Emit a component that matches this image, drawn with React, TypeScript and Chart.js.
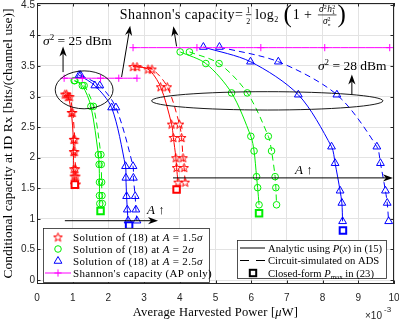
import React, { useEffect, useRef } from "react";
import { Chart, registerables } from "chart.js";
Chart.register(...registerables);

// ---------- axis ticks ----------
const xTicks = [0, 1, 2, 3, 4, 5, 6, 7, 8, 9, 10];
const yTicks = [0, 0.5, 1, 1.5, 2, 2.5, 3, 3.5, 4, 4.5];

// ---------- sigma^2 = 25 dBm ----------
const red25Y = [3.04, 3.0, 2.74, 2.3, 2.1, 1.82, 1.7, 1.57];
const red25SolidX = [0.78, 0.87, 0.96, 1.02, 1.02, 1.03, 1.04, 1.05];
const red25DashX = [0.83, 0.92, 1.0, 1.06, 1.06, 1.08, 1.09, 1.1];

const green25Y = [3.26, 3.18, 2.84, 2.05, 1.89, 1.6, 1.38, 1.25];
const green25SolidX = [1.04, 1.27, 1.51, 1.72, 1.74, 1.75, 1.75, 1.76];
const green25DashX = [1.06, 1.32, 1.58, 1.79, 1.8, 1.81, 1.82, 1.83];

const blue25Y = [3.35, 3.18, 2.82, 1.86, 1.67, 1.37, 1.15, 0.97];
const blue25SolidX = [1.18, 1.62, 2.09, 2.48, 2.49, 2.51, 2.53, 2.55];
const blue25DashX = [1.22, 1.76, 2.21, 2.69, 2.7, 2.75, 2.77, 2.8];

// ---------- sigma^2 = 28 dBm ----------
const red28Y = [3.49, 3.45, 3.16, 2.55, 2.33, 2.0, 1.84, 1.6];
const red28SolidX = [2.69, 3.11, 3.46, 3.77, 3.82, 3.89, 3.91, 3.95];
const red28DashX = [2.8, 3.22, 3.65, 3.99, 4.05, 4.09, 4.12, 4.15];

const green28Y = [3.73, 3.54, 3.06, 2.35, 2.11, 1.69, 1.51, 1.23];
const green28SolidX = [4.01, 4.73, 5.45, 5.99, 6.08, 6.15, 6.18, 6.22];
const green28DashX = [4.27, 5.1, 5.89, 6.48, 6.57, 6.67, 6.69, 6.71];

const blue28Y = [3.81, 3.57, 3.03, 2.18, 1.91, 1.46, 1.26, 0.96];
const blue28SolidX = [4.66, 5.98, 7.32, 8.25, 8.35, 8.49, 8.54, 8.56];
const blue28DashX = [5.11, 6.76, 8.4, 9.52, 9.62, 9.76, 9.81, 9.85];

// ---------- Shannon capacity (AP only) ----------
const shannon25X = [0.76, 1.27, 1.78, 2.29, 2.8];
const shannon25Y = [3.3, 3.3, 3.3, 3.3, 3.3];
const shannon28X = [2.69, 4.48, 6.27, 8.06, 9.88];
const shannon28Y = [3.8, 3.8, 3.8, 3.8, 3.8];

// ---------- closed-form Pmax ----------
const pmaxRedX = [1.06, 3.91];
const pmaxRedY = [1.56, 1.48];
const pmaxGreenX = [1.78, 6.22];
const pmaxGreenY = [1.13, 1.09];
const pmaxBlueX = [2.58, 8.57];
const pmaxBlueY = [0.89, 0.81];

// ---------- texts ----------
const xTitle = "Average Harvested Power [";
const yTitle = "Conditional capacity at ID Rx [bits/(channel use)]";
const legendLeftTexts = ["1.5", "2", "2.5"];
const legendShannon = "Shannon's capacity (AP only)";
const legendAnalytic = ["Analytic using ", "P", "(", "x", ") in (15)"];
const legendCircuit = "Circuit-simulated on ADS";
const sigma25Text = " = 25 dBm";
const sigma28Text = " = 28 dBm";

const RED = "#ff0000";
const GREEN = "#00ee00";
const BLUE = "#0000ff";
const MAGENTA = "#ff00ff";
const AXIS = "#262626";
const SERIF = '"Liberation Serif", "Times New Roman", serif';
const SANS = '"Liberation Sans", Arial, sans-serif';

const zip = (xs: number[], ys: number[]) => xs.map((x, i) => ({ x, y: ys[i] }));

function makeStar(color: string) {
  const c = document.createElement("canvas");
  const s = 11;
  c.width = s;
  c.height = s;
  const ctx = c.getContext("2d")!;
  ctx.strokeStyle = color;
  ctx.lineWidth = 1;
  ctx.beginPath();
  const R = 4.6, r = 1.9, cx = s / 2, cy = s / 2 + 0.5;
  for (let i = 0; i < 10; i++) {
    const a = -Math.PI / 2 + (i * Math.PI) / 5;
    const rad = i % 2 === 0 ? R : r;
    const px = cx + rad * Math.cos(a), py = cy + rad * Math.sin(a);
    if (i === 0) ctx.moveTo(px, py);
    else ctx.lineTo(px, py);
  }
  ctx.closePath();
  ctx.stroke();
  return c;
}

type Run = { t: string; it?: boolean; s?: number; dy?: number };

function drawRuns(ctx: CanvasRenderingContext2D, runs: Run[], x: number, y: number, base: number, measureOnly = false, spacing = 0) {
  let cx = x;
  (ctx as any).letterSpacing = `${spacing}px`;
  for (const r of runs) {
    ctx.font = `${r.it ? "italic " : ""}${r.s ?? base}px ${SERIF}`;
    if (!measureOnly) ctx.fillText(r.t, cx, y + (r.dy || 0));
    cx += ctx.measureText(r.t).width;
  }
  (ctx as any).letterSpacing = "0px";
  return cx - x;
}

function arrow(ctx: CanvasRenderingContext2D, x1: number, y1: number, x2: number, y2: number) {
  const ang = Math.atan2(y2 - y1, x2 - x1);
  const L = 10, W = 3.6;
  const c = Math.cos(ang), s = Math.sin(ang);
  ctx.beginPath();
  ctx.moveTo(x1, y1);
  ctx.lineTo(x2 - c * L * 0.7, y2 - s * L * 0.7);
  ctx.stroke();
  const bx = x2 - c * L, by = y2 - s * L;
  const nx = -s, ny = c;
  const mx = x2 - c * L * 0.7, my = y2 - s * L * 0.7;
  ctx.beginPath();
  ctx.moveTo(x2, y2);
  ctx.lineTo(bx + nx * W, by + ny * W);
  ctx.lineTo(mx, my);
  ctx.lineTo(bx - nx * W, by - ny * W);
  ctx.closePath();
  ctx.fill();
}

// plot frame inside the 399x321 canvas
const FRAME = { left: 37, right: 394, top: 3, bottom: 284 };

export default function App() {
  const ref = useRef<HTMLCanvasElement>(null);
  useEffect(() => {
    const canvas = ref.current!;
    const redStar = makeStar(RED);
    const curve = (xs: number[], ys: number[], color: string, dashed: boolean, style: any, radius: number) => ({
      data: zip(xs, ys),
      showLine: true,
      borderColor: color,
      borderWidth: 1,
      borderDash: dashed ? [6, 4] : [],
      pointStyle: style,
      pointRadius: radius,
      pointBorderColor: color,
      pointBackgroundColor: "rgba(0,0,0,0)",
      pointBorderWidth: 1,
      tension: 0.3,
      fill: false,
    });
    const squares = (xs: number[], ys: number[], color: string) => ({
      data: zip(xs, ys),
      showLine: false,
      pointStyle: "rect",
      pointRadius: 4.6,
      pointBorderColor: color,
      pointBackgroundColor: "#ffffff",
      pointBorderWidth: 2,
    });
    const datasets: any[] = [
      squares(pmaxRedX, pmaxRedY, RED),
      squares(pmaxGreenX, pmaxGreenY, GREEN),
      squares(pmaxBlueX, pmaxBlueY, BLUE),
      curve(shannon25X, shannon25Y, MAGENTA, false, "cross", 3.6),
      curve(shannon28X, shannon28Y, MAGENTA, false, "cross", 3.6),
      curve(blue25SolidX, blue25Y, BLUE, false, "triangle", 4.5),
      curve(blue25DashX, blue25Y, BLUE, true, "triangle", 4.5),
      curve(blue28SolidX, blue28Y, BLUE, false, "triangle", 4.5),
      curve(blue28DashX, blue28Y, BLUE, true, "triangle", 4.5),
      curve(green25SolidX, green25Y, GREEN, false, "circle", 3.3),
      curve(green25DashX, green25Y, GREEN, true, "circle", 3.3),
      curve(green28SolidX, green28Y, GREEN, false, "circle", 3.3),
      curve(green28DashX, green28Y, GREEN, true, "circle", 3.3),
      curve(red25SolidX, red25Y, RED, false, redStar, 4),
      curve(red25DashX, red25Y, RED, true, redStar, 4),
      curve(red28SolidX, red28Y, RED, false, redStar, 4),
      curve(red28DashX, red28Y, RED, true, redStar, 4),
    ];

    const frame = {
      id: "frame",
      afterLayout(chart: any) {
        const ca = chart.chartArea;
        ca.left = FRAME.left; ca.right = FRAME.right; ca.top = FRAME.top; ca.bottom = FRAME.bottom;
        ca.width = FRAME.right - FRAME.left; ca.height = FRAME.bottom - FRAME.top;
        const x = chart.scales.x, y = chart.scales.y;
        x.left = FRAME.left; x.right = FRAME.right; x.width = FRAME.right - FRAME.left;
        x.top = FRAME.bottom; x.bottom = chart.height; x.height = chart.height - FRAME.bottom;
        y.left = 0; y.right = FRAME.left; y.width = FRAME.left;
        y.top = FRAME.top; y.bottom = FRAME.bottom; y.height = FRAME.bottom - FRAME.top;
        x.configure();
        y.configure();
      },
    };

    const annot = {
      id: "annot",
      afterDraw(chart: any) {
        const ctx: CanvasRenderingContext2D = chart.ctx;
        const xs = chart.scales.x, ys = chart.scales.y;
        const ca = chart.chartArea;
        const px = (v: number) => xs.getPixelForValue(v);
        const py = (v: number) => ys.getPixelForValue(v);
        ctx.save();
        // box and inward ticks
        ctx.strokeStyle = AXIS;
        ctx.lineWidth = 1;
        ctx.strokeRect(Math.round(ca.left) + 0.5, Math.round(ca.top) + 0.5, Math.round(ca.right - ca.left) - 1, Math.round(ca.bottom - ca.top) - 1);
        ctx.beginPath();
        for (const t of xTicks) {
          const x = Math.round(px(t)) + 0.5;
          ctx.moveTo(x, ca.bottom); ctx.lineTo(x, ca.bottom - 3.5);
          ctx.moveTo(x, ca.top); ctx.lineTo(x, ca.top + 3.5);
        }
        for (const t of yTicks) {
          const y = Math.round(py(t)) + 0.5;
          ctx.moveTo(ca.left, y); ctx.lineTo(ca.left + 3.5, y);
          ctx.moveTo(ca.right, y); ctx.lineTo(ca.right - 3.5, y);
        }
        ctx.stroke();

        // ellipses
        ctx.strokeStyle = "#000";
        ctx.lineWidth = 0.9;
        const ell = (cx: number, cy: number, rx: number, ry: number) => {
          ctx.beginPath();
          const X = px(cx), Y = py(cy);
          ctx.ellipse(X, Y, Math.abs(px(cx + rx) - X), Math.abs(py(cy + ry) - Y), 0, 0, Math.PI * 2);
          ctx.stroke();
        };
        ell(1.32, 3.11, 0.81, 0.31);
        ell(6.45, 2.93, 3.24, 0.15);

        // arrows
        ctx.fillStyle = "#000";
        ctx.lineWidth = 1;
        const arr = (x1: number, y1: number, x2: number, y2: number) => arrow(ctx, px(x1), py(y1), px(x2), py(y2));
        arr(0.73, 3.4, 0.73, 3.82);
        arr(2.37, 3.32, 2.61, 4.16);
        arr(3.91, 3.82, 3.82, 4.15);
        arr(8.82, 3.03, 8.82, 3.36);
        arr(0.78, 0.97, 3.39, 0.97);
        arr(3.81, 1.67, 9.97, 1.67);

        // texts
        ctx.fillStyle = "#000";
        ctx.textBaseline = "alphabetic";
        ctx.textAlign = "left";
        drawRuns(ctx, [{ t: "σ", it: true }, { t: "2", s: 9, dy: -5 }, { t: sigma25Text }], px(0.17), py(3.85), 13.5);
        drawRuns(ctx, [{ t: "σ", it: true }, { t: "2", s: 9, dy: -5 }, { t: sigma28Text }], px(7.87), py(3.44), 13.5);
        drawRuns(ctx, [{ t: "A", it: true }, { t: " ↑" }], px(3.08), py(1.08), 13);
        drawRuns(ctx, [{ t: "A", it: true }, { t: " ↑" }], px(7.23), py(1.73), 13);

        // formula
        let fx = px(2.32);
        const fb = py(4.27);
        fx += drawRuns(ctx, [{ t: "Shannon's capacity=" }], fx, fb, 14, false, 0.45);
        fx += 3;
        ctx.font = `8px ${SERIF}`;
        ctx.fillText("1", fx, fb - 6);
        ctx.fillText("2", fx, fb + 5);
        ctx.fillRect(fx - 0.5, fb - 4.5, 5.5, 0.7);
        fx += 9;
        fx += drawRuns(ctx, [{ t: "log" }, { t: "2", s: 8, dy: 3 }], fx, fb, 14, false, 0.3);
        fx += 5;
        fx += drawRuns(ctx, [{ t: "(", s: 25, dy: 3 }], fx, fb, 14);
        fx += 1;
        fx += drawRuns(ctx, [{ t: "1 + " }], fx, fb, 14, false, 0.3);
        fx += 2;
        const numRuns: Run[] = [{ t: "σ", it: true }, { t: "2", s: 6, dy: -3 }, { t: "h", it: true }, { t: "2", s: 6, dy: -3 }];
        const numW = drawRuns(ctx, numRuns, fx, fb - 7, 9.5, true, 0.3);
        drawRuns(ctx, numRuns, fx + 1, fb - 7, 9.5, false, 0.3);
        ctx.font = `6px ${SERIF}`;
        ctx.fillText("1", fx + 1 + numW - 3.5, fb - 4.6);
        ctx.fillRect(fx, fb - 4.3, numW + 2, 0.7);
        drawRuns(ctx, [{ t: "σ", it: true }, { t: "2", s: 6, dy: -3 }], fx + 5, fb + 5, 9.5);
        ctx.font = `italic 5px ${SERIF}`;
        ctx.fillText("n", fx + 10, fb + 7);
        fx += numW + 3;
        drawRuns(ctx, [{ t: ")", s: 25, dy: 3 }], fx, fb, 14);

        // x title
        const xRuns: Run[] = [{ t: xTitle }, { t: "μ", it: true }, { t: "W]" }];
        const tw = drawRuns(ctx, xRuns, 0, 0, 12.5, true, 0.2);
        drawRuns(ctx, xRuns, (ca.left + ca.right) / 2 - tw / 2, 316, 12.5, false, 0.2);
        // exponent
        ctx.fillStyle = AXIS;
        ctx.font = `10px ${SANS}`;
        ctx.fillText("×10", ca.right - 29, 319);
        ctx.font = `8px ${SANS}`;
        ctx.fillText("-3", ca.right - 10, 312);
        // y title
        ctx.fillStyle = "#000";
        ctx.save();
        ctx.translate(11.5, (ca.top + ca.bottom) / 2);
        ctx.rotate(-Math.PI / 2);
        ctx.font = `13.5px ${SERIF}`;
        ctx.textAlign = "center";
        ctx.fillText(yTitle, 0, 0);
        ctx.restore();

        // left legend
        const L0 = ca.left + 6, B0 = ca.bottom - 2;
        const lw = 166, lh = 54;
        ctx.fillStyle = "#fff";
        ctx.fillRect(L0, B0 - lh, lw, lh);
        ctx.strokeStyle = AXIS;
        ctx.lineWidth = 0.8;
        ctx.strokeRect(L0 + 0.5, B0 - lh + 0.5, lw, lh);
        const rows = [B0 - 45, B0 - 33, B0 - 21, B0 - 9];
        const mx = L0 + 15, tx = L0 + 30;
        ctx.drawImage(redStar, mx - 5.5, rows[0] - 5.5);
        ctx.lineWidth = 1;
        ctx.strokeStyle = GREEN;
        ctx.beginPath(); ctx.arc(mx, rows[1], 3.3, 0, Math.PI * 2); ctx.stroke();
        ctx.strokeStyle = BLUE;
        ctx.beginPath();
        ctx.moveTo(mx, rows[2] - 4.5);
        ctx.lineTo(mx + 3.9, rows[2] + 2.25);
        ctx.lineTo(mx - 3.9, rows[2] + 2.25);
        ctx.closePath(); ctx.stroke();
        ctx.strokeStyle = MAGENTA;
        ctx.beginPath();
        ctx.moveTo(L0 + 2, rows[3]); ctx.lineTo(L0 + 28, rows[3]);
        ctx.moveTo(mx, rows[3] - 3.6); ctx.lineTo(mx, rows[3] + 3.6);
        ctx.moveTo(mx - 3.6, rows[3]); ctx.lineTo(mx + 3.6, rows[3]);
        ctx.stroke();
        ctx.fillStyle = "#000";
        legendLeftTexts.forEach((v, i) => {
          drawRuns(ctx, [{ t: "Solution of (18) at " }, { t: "A", it: true }, { t: " = " + v }, { t: "σ", it: true }], tx, rows[i] + 3.5, 11, false, 0.3);
        });
        drawRuns(ctx, [{ t: legendShannon }], tx, rows[3] + 3.5, 11, false, 0.3);

        // right legend
        const R0 = ca.right - 8, B1 = ca.bottom - 6;
        const rw = 149, rh = 38;
        const RL = R0 - rw;
        ctx.fillStyle = "#fff";
        ctx.fillRect(RL, B1 - rh, rw, rh);
        ctx.strokeStyle = AXIS;
        ctx.lineWidth = 0.8;
        ctx.strokeRect(RL + 0.5, B1 - rh + 0.5, rw, rh);
        const rr = [B1 - 30, B1 - 17.5, B1 - 5];
        ctx.strokeStyle = "#000";
        ctx.lineWidth = 1;
        ctx.beginPath();
        ctx.moveTo(RL + 3, rr[0]); ctx.lineTo(RL + 28, rr[0]);
        ctx.moveTo(RL + 3, rr[1]); ctx.lineTo(RL + 12, rr[1]);
        ctx.moveTo(RL + 19, rr[1]); ctx.lineTo(RL + 28, rr[1]);
        ctx.stroke();
        ctx.lineWidth = 2;
        ctx.strokeRect(RL + 16 - 3.2, rr[2] - 3.2, 6.4, 6.4);
        ctx.fillStyle = "#000";
        const rtx = RL + 31;
        drawRuns(ctx, legendAnalytic.map((t, i) => ({ t, it: i === 1 || i === 3 })), rtx, rr[0] + 3.5, 10.6);
        drawRuns(ctx, [{ t: legendCircuit }], rtx, rr[1] + 3.5, 10.6);
        drawRuns(ctx, [{ t: "Closed-form " }, { t: "P", it: true }, { t: "max", s: 7, dy: 2 }, { t: " in (23)" }], rtx, rr[2] + 3.5, 10.6);
        ctx.restore();
      },
    };

    const chart = new Chart(canvas, {
      type: "scatter",
      data: { datasets },
      options: {
        responsive: false,
        animation: false,
        layout: { padding: 0, autoPadding: false },
        plugins: { legend: { display: false }, tooltip: { enabled: false } },
        scales: {
          x: {
            type: "linear",
            min: 0,
            max: 10,
            afterFit: (s: any) => { s.height = 37; },
            afterBuildTicks: (s: any) => { s.ticks = xTicks.map((v) => ({ value: v })); },
            ticks: { font: { family: SANS, size: 10 }, color: AXIS, padding: 8, maxRotation: 0, autoSkip: false, callback: (v: any) => String(v) },
            grid: { color: "#e3e3e3", drawTicks: false },
            border: { display: false },
          },
          y: {
            type: "linear",
            min: -0.065,
            max: 4.53,
            afterFit: (s: any) => { s.width = 37; },
            afterBuildTicks: (s: any) => { s.ticks = yTicks.map((v) => ({ value: v })); },
            ticks: { font: { family: SANS, size: 10 }, color: AXIS, padding: 2, autoSkip: false, callback: (v: any) => String(v) },
            grid: { color: "#e3e3e3", drawTicks: false },
            border: { display: false },
          },
        },
      } as any,
      plugins: [frame, annot],
    });
    return () => chart.destroy();
  }, []);
  return (
    <canvas
      ref={ref}
      width={399}
      height={321}
      style={{ position: "fixed", left: 0, top: 0, display: "block", width: 399, height: 321 }}
    />
  );
}
